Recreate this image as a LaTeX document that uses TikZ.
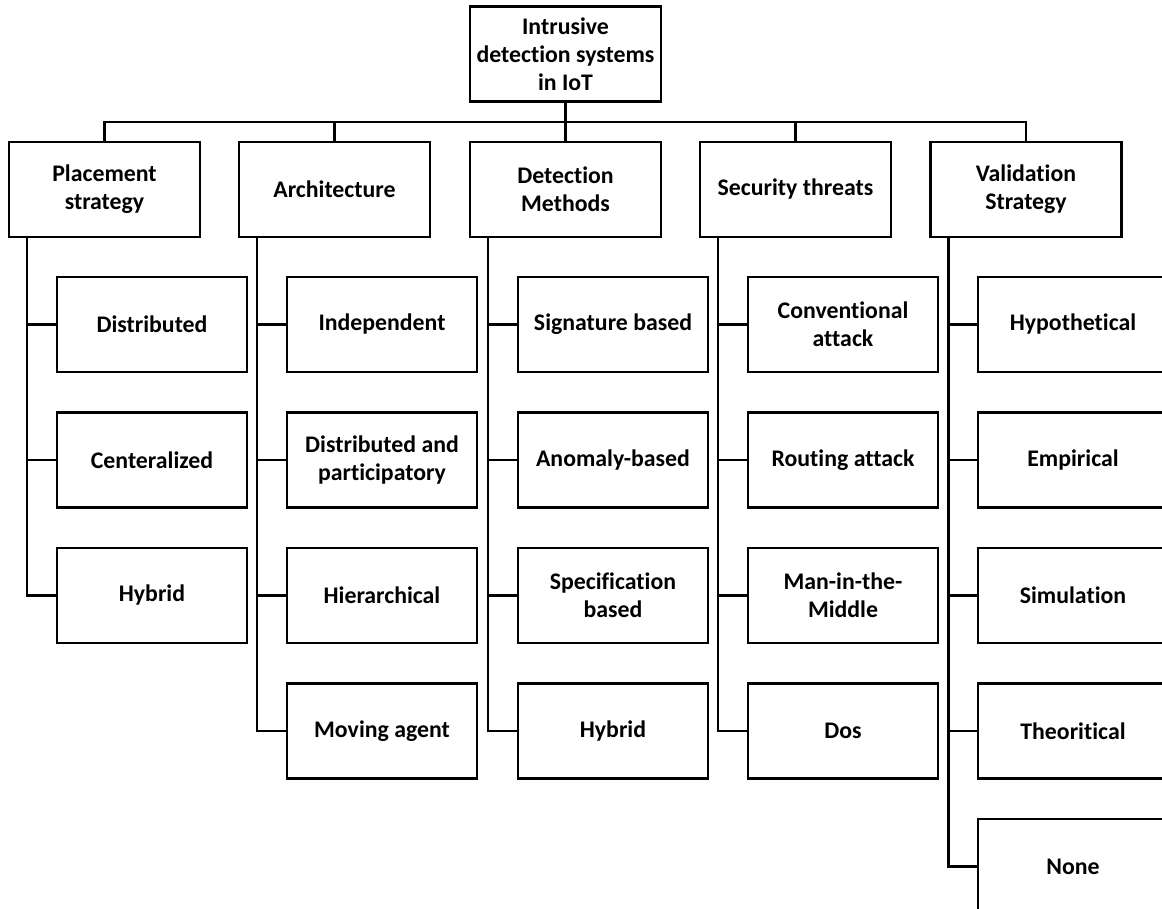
\documentclass[tikz,border=0pt]{standalone}
\usepackage{fontspec}
\setmainfont{Carlito}[Ligatures={NoCommon}]
\begin{document}
\begin{tikzpicture}[x=1pt,y=-1pt,
  box/.style={draw=black,line width=2.3pt,fill=white,minimum width=191pt,minimum height=95pt,inner sep=0pt,align=center,
    font=\fontsize{23.8}{28}\selectfont\bfseries},
  child/.style={box,minimum width=190pt},
  conn/.style={draw=black,line width=2.3pt}]
\useasboundingbox (0,0) rectangle (1162,909);
\clip (0,0) rectangle (1162,909);
% root
\node[box] (root) at (565.5,54) {Intrusive\\detection systems\\in IoT};
% level 1
\node[box] (p1) at (104.5,189.5) {Placement\\strategy};
\node[box] (p2) at (334.5,189.5) {Architecture};
\node[box] (p3) at (565.5,189.5) {Detection\\Methods};
\node[box] (p4) at (795.5,189.5) {Security threats};
\node[box] (p5) at (1026,189.5) {Validation\\Strategy};
% children rows
\node[child] (c11) at (152,324.5) {Distributed};
\node[child] (c12) at (152,460) {Centeralized};
\node[child] (c13) at (152,595.5) {Hybrid};
\node[child] (c21) at (382,324.5) {Independent};
\node[child] (c22) at (382,460) {Distributed and\\participatory};
\node[child] (c23) at (382,595.5) {Hierarchical};
\node[child] (c24) at (382,731) {Moving agent};
\node[child] (c31) at (613,324.5) {Signature based};
\node[child] (c32) at (613,460) {Anomaly-based};
\node[child] (c33) at (613,595.5) {Specification\\based};
\node[child] (c34) at (613,731) {Hybrid};
\node[child] (c41) at (843,324.5) {Conventional\\attack};
\node[child] (c42) at (843,460) {Routing attack};
\node[child] (c43) at (843,595.5) {Man-in-the-\\Middle};
\node[child] (c44) at (843,731) {Dos};
\node[child] (c51) at (1073,324.5) {Hypothetical};
\node[child] (c52) at (1073,460) {Empirical};
\node[child] (c53) at (1073,595.5) {Simulation};
\node[child] (c54) at (1073,731) {Theoritical};
\node[child] (c55) at (1073,866.5) {None};
% bus
\coordinate (bus) at (0,122);
\draw[conn] (root.south) -- (root.south |- bus);
\draw[conn] (p1.north) -- (p1.north |- bus) -- (p5.north |- bus) -- (p5.north);
\foreach \k in {2,3,4}{\draw[conn] (p\k.north) -- (p\k.north |- bus);}
% children connectors
\foreach \k/\n in {1/3,2/4,3/4,4/4,5/5}{
  \foreach \j in {1,...,\n}{
    \draw[conn] ([xshift=19pt]p\k.south west) |- (c\k\j.west);
  }
}
\end{tikzpicture}
\end{document}
